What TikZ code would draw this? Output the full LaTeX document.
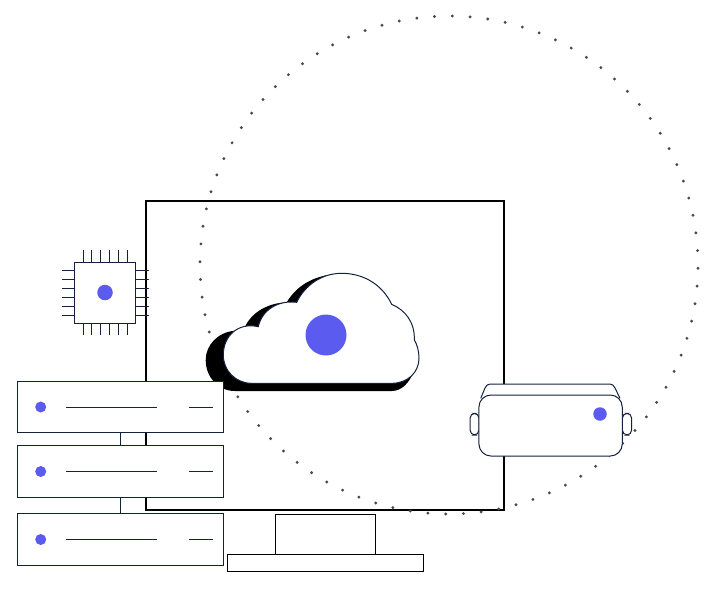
\documentclass[tikz,border=0pt]{standalone}
\usepackage{tikz}
\usetikzlibrary{positioning}
\definecolor{navy}{HTML}{14213D}
\definecolor{accent}{HTML}{5B5BF0}
\definecolor{dotgray}{HTML}{4A4A4A}

\begin{document}
\begin{tikzpicture}[x=1pt, y=-1pt,
        box/.style = {draw=navy, fill=white, line width=1pt, outer sep=0pt, inner sep=0pt},
        stand/.style = {draw=black, fill=white, line width=.9pt, outer sep=0pt, inner sep=0pt},
        blue/.style = {circle, fill=accent, inner sep=0pt}, 
        wire/.style = {draw=navy, line width=1pt}]
        \useasboundingbox (0,0) rectangle (714,598);
        %% Monitor
        \node[draw=black, line width=2pt, outer sep=0pt, minimum width=358pt, minimum height=309pt] (monitor) at (325,355) {};
        \node[stand, minimum width=100pt, minimum height=41pt] (neck) at (325,534.5) {};
        \node[stand, minimum width=196pt, minimum height=17pt] (foot) at (325,562.5) {};
        %% Dotted orbit
        \foreach \i in {0,...,87}{
            \fill[dotgray] ({449+249*cos(.76+\i*4.0909)},{265+249*sin(.76+\i*4.0909)}) circle [radius=1.6];
        }
        %% Cloud
        \fill[black] (235,391) -- (391.7,391) .. controls (402,391) and (410,382) .. (413.3,371.7)
            -- (335,274) .. controls (314,276) and (297,285) .. (286.7,302.3)
            .. controls (268,303) and (252,312) .. (245,326.7) -- (235,330.7)
            .. controls (218,332) and (205.7,345) .. (205.7,360)
            .. controls (205.7,377) and (218,391) .. (235,391) -- cycle;
        \draw[draw=navy, fill=white, line width=1pt] (251.7,383.3) -- (391.7,383.3)
            .. controls (408,383.3) and (419,372) .. (419,358.3)
            .. controls (419,351) and (417,344) .. (414.3,340)
            .. controls (415,322) and (405,310) .. (391.7,304.3)
            .. controls (383,286) and (365,273.3) .. (341.7,273.3)
            .. controls (322,273.3) and (305,285) .. (296.7,302.3)
            .. controls (278,300) and (262,310) .. (258.3,326.7)
            .. controls (238,322) and (223.3,336) .. (223.3,355)
            .. controls (223.3,371) and (236,383.3) .. (251.7,383.3) -- cycle;
        \node[blue, minimum size=41pt] (clouddot) at (326,335) {};
        %% Servers
        \node[box, minimum width=206pt, minimum height=51.5pt] (servera) at (120,407) {};
        \node[box, minimum width=206pt, minimum height=51.5pt] (serverb) [below=13pt of servera] {};
        \node[box, minimum width=206pt, minimum height=51.5pt] (serverc) [below=16.5pt of serverb] {};
        \draw[wire] (servera) -- (serverb);
        \draw[wire] (serverb) -- (serverc);
        \foreach \s/\y in {a/407,b/471.5,c/539.5}{
            \node[blue, minimum size=11pt] (dot\s) at (40.7,\y) {};
            \draw[wire] (65.7,\y) -- (156.7,\y);
            \draw[wire] (189,\y) -- (212.7,\y);
        }
        %% Chip
        \foreach \i in {0,...,5}{
            \draw[wire] (83+8.95*\i,250) -- (83+8.95*\i,335);
            \draw[wire] (62,270.3+8.95*\i) -- (149,270.3+8.95*\i);
        }
        \node[box, minimum size=61pt] (chip) at (105,292.5) {};
        \node[blue, minimum size=15.5pt] (chipdot) at (chip) {};
        %% Headset
        \draw[draw=navy, fill=white, line width=1pt] (480.7,398.3) -- (485,388) .. controls (486,385.5) and (488,384) .. (490,384)
            -- (610,384) .. controls (612,384) and (614,385.5) .. (615,388) -- (620,398.3);
        \draw[box, rounded corners=5pt] (479,413.3) rectangle (470,435);
        \draw[box, rounded corners=5pt] (622.3,413.3) rectangle (631.7,435);
        \node[box, rounded corners=12pt, minimum width=143.3pt, minimum height=61pt] (headset) at (550.6,425.5) {};
        \node[blue, minimum size=13.5pt] (headsetdot) at (600,414) {};
    \end{tikzpicture}
\end{document}
